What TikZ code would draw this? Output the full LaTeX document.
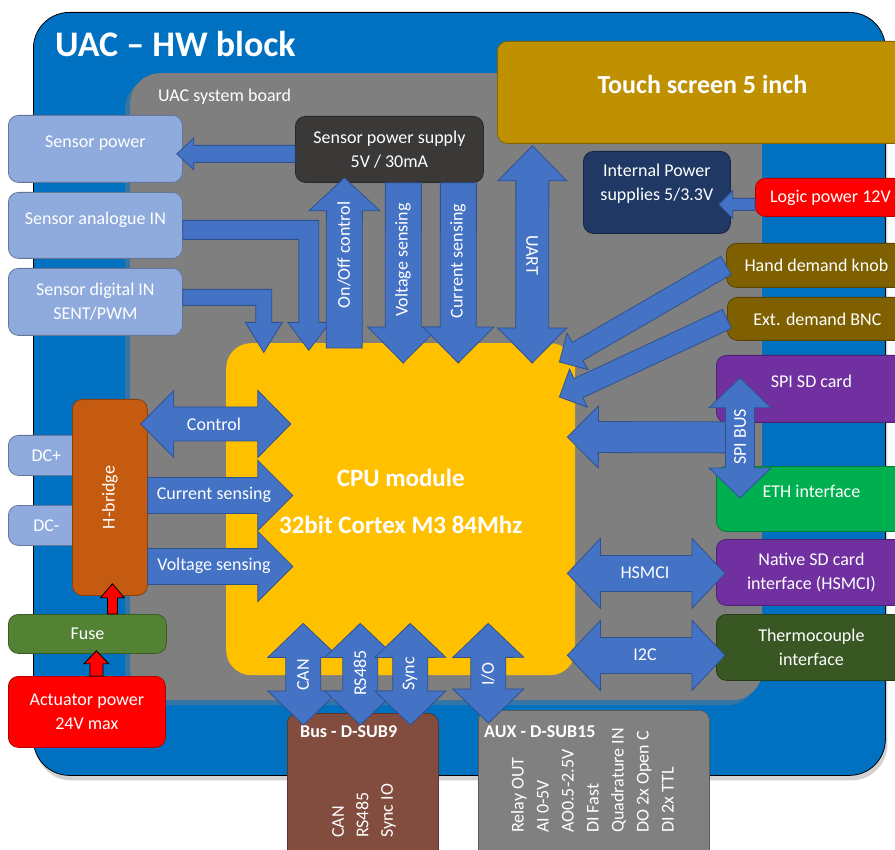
\documentclass[tikz,border=0pt]{standalone}
\usepackage{fontspec}
\setmainfont{Carlito}
\usetikzlibrary{calc,shadows}

\definecolor{hwblue}{RGB}{0,112,192}
\definecolor{boardgray}{RGB}{127,127,127}
\definecolor{cpuyellow}{RGB}{255,192,0}
\definecolor{arrowblue}{RGB}{68,114,196}
\definecolor{arrowedge}{RGB}{47,82,143}
\definecolor{sensorblue}{RGB}{143,170,220}
\definecolor{supplygray}{RGB}{59,56,56}
\definecolor{screengold}{RGB}{191,144,0}
\definecolor{powernavy}{RGB}{32,56,100}
\definecolor{powerred}{RGB}{255,0,0}
\definecolor{demandbrown}{RGB}{127,96,0}
\definecolor{sdpurple}{RGB}{112,48,160}
\definecolor{ethgreen}{RGB}{0,176,80}
\definecolor{tcgreen}{RGB}{56,87,35}
\definecolor{bridgeorange}{RGB}{197,90,17}
\definecolor{fusegreen}{RGB}{84,130,53}
\definecolor{busbrown}{RGB}{130,76,62}
\definecolor{auxgray}{RGB}{128,128,128}

\tikzset{
  box/.style={draw=#1!70!black, line width=0.8pt, fill=#1, rounded corners=10pt,
    text=white, align=center, inner sep=0pt, anchor=north west,
    font=\fontsize{18}{24}\selectfont},
  raised/.style={text height=12pt, text depth=14pt},
  lbl/.style={text=white, inner sep=0pt, font=\fontsize{18}{24}\selectfont},
  barrow/.style={fill=arrowblue, draw=arrowedge, line width=0.8pt},
  % block arrow, args: half shaft / half head / head length
  sarrow/.style n args={3}{barrow, to path={
    let \p1=(\tikztostart), \p2=(\tikztotarget),
        \n1={atan2(\y2-\y1,\x2-\x1)}, \n2={veclen(\x2-\x1,\y2-\y1)} in
    {[shift={(\p1)}, rotate=\n1]
     (0pt,-#1) -- ({\n2-#3},-#1) -- ({\n2-#3},-#2) -- ({\n2+0pt},0pt)
     -- ({\n2-#3},#2) -- ({\n2-#3},#1) -- (0pt,#1) -- cycle}}},
  darrow/.style n args={3}{barrow, to path={
    let \p1=(\tikztostart), \p2=(\tikztotarget),
        \n1={atan2(\y2-\y1,\x2-\x1)}, \n2={veclen(\x2-\x1,\y2-\y1)} in
    {[shift={(\p1)}, rotate=\n1]
     (0pt,0pt) -- (#3,-#2) -- (#3,-#1) -- ({\n2-#3},-#1) -- ({\n2-#3},-#2)
     -- ({\n2+0pt},0pt) -- ({\n2-#3},#2) -- ({\n2-#3},#1) -- (#3,#1) -- (#3,#2) -- cycle}}},
}

\begin{document}
\begin{tikzpicture}[x=1pt, y=-1pt]
\useasboundingbox (0,0) rectangle (895,850);
\fill[white] (0,0) rectangle (895,850);

% frame and board
\node[draw=black, line width=0.8pt, fill=hwblue, rounded corners=36pt, minimum width=852pt,
  minimum height=763pt, anchor=north west,
  drop shadow={shadow xshift=2pt, shadow yshift=-5pt, opacity=.35}] (hw) at (33,12) {};
\node[anchor=base west, inner sep=0pt, text=white, font=\bfseries\fontsize{36}{42}\selectfont]
  (title) at (55,57) {UAC – HW block};
\node[fill=boardgray, rounded corners=30pt, minimum width=632pt, minimum height=627pt,
  anchor=north west, drop shadow={shadow xshift=-5pt, shadow yshift=-5pt, opacity=.4}]
  (board) at (130,73) {};
\node[anchor=base west, lbl] (boardT) at (158,102) {UAC system board};

% boxes
\node[box=screengold, raised, minimum width=410pt, minimum height=102pt,
  font=\bfseries\fontsize{26}{30}\selectfont, text height=18pt, text depth=15pt]
  (touch) at (497,41) {Touch screen 5 inch};
\node[box=sensorblue, raised, minimum width=174pt, minimum height=67pt] (spw) at (8,115) {Sensor power};
\node[box=sensorblue, raised, minimum width=174pt, minimum height=66pt] (sain) at (8,192) {Sensor analogue IN};
\node[box=sensorblue, minimum width=174pt, minimum height=67pt] (sdin) at (8,268) {Sensor digital IN\\SENT/PWM};
\node[box=sensorblue, minimum width=76pt, minimum height=40pt] (dcp) at (8,435) {DC+};
\node[box=sensorblue, minimum width=76pt, minimum height=40pt] (dcm) at (8,505) {DC-};
\node[box=fusegreen, minimum width=158pt, minimum height=39pt] (fuse) at (8,614) {Fuse};
\node[box=powerred, minimum width=157pt, minimum height=71pt] (act) at (8,676) {Actuator power\\24V max};
\node[box=supplygray, minimum width=188pt, minimum height=66pt] (spsu) at (295,116) {Sensor power supply\\5V / 30mA};
\node[box=powernavy, minimum width=147pt, minimum height=82pt, text depth=20pt] (ips) at (583,151) {Internal Power\\supplies 5/3.3V};
\node[box=powerred, minimum width=150pt, minimum height=38pt] (lpow) at (755,178) {Logic power 12V};
\node[box=demandbrown, minimum width=180pt, minimum height=44pt] (hand) at (726,243) {Hand demand knob};
\node[box=demandbrown, minimum width=180pt, minimum height=43pt] (ext) at (727,297) {Ext. demand BNC};
\node[box=sdpurple, raised, minimum width=190pt, minimum height=67pt] (spisd) at (716,355) {SPI SD card};
\node[box=ethgreen, raised, minimum width=190pt, minimum height=65pt] (eth) at (716,466) {ETH interface};
\node[box=sdpurple, minimum width=190pt, minimum height=66pt] (nsd) at (716,539) {Native SD card\\interface (HSMCI)};
\node[box=tcgreen, minimum width=190pt, minimum height=66pt] (tc) at (716,614) {Thermocouple\\interface};

% CPU
\node[fill=cpuyellow, rounded corners=25pt, minimum width=349pt, minimum height=332pt,
  anchor=north west, text=white, align=center, font=\bfseries\fontsize{25}{47}\selectfont,
  text depth=15pt, drop shadow={shadow xshift=-5pt, shadow yshift=-5pt, opacity=.4}]
  (cpu) at (226,343) {CPU module\\32bit Cortex M3 84Mhz};
\node[box=bridgeorange, minimum width=75pt, minimum height=196pt] (hb) at (72,399) {\rotatebox{90}{H-bridge}};

% connectors boxes
\node[box=busbrown, minimum width=151pt, minimum height=160pt] (bus) at (287,713) {};
\node[box=auxgray, minimum width=231pt, minimum height=160pt] (aux) at (478,710) {};
\node[lbl, anchor=base west, font=\bfseries\fontsize{18}{24}\selectfont] (busT) at (300,737) {Bus - D-SUB9};
\node[lbl, anchor=base west, font=\bfseries\fontsize{18}{24}\selectfont] (auxT) at (484,737) {AUX - D-SUB15};
\node[lbl, rotate=90, align=left, anchor=north west, font=\fontsize{18}{24.5}\selectfont]
  (busL) at (332,838) {CAN\\RS485\\Sync IO};
\node[lbl, rotate=90, align=left, anchor=north west, font=\fontsize{18}{25}\selectfont]
  (auxL) at (511,833) {Relay OUT\\AI 0-5V\\AO0.5-2.5V\\DI Fast\\Quadrature IN\\DO 2x Open C\\DI 2x TTL};

% sensor arrows
\draw[sarrow={8.5pt}{16pt}{17pt}] ($(spsu.west)+(0,4.5)$) to ($(spw.east)+(-6,5)$);
\draw[barrow] ($(sain.east)+(0,-5)$) -- ++(136,0) -- ++(0,102) -- ++(11,0) -- ++(-21,28)
  -- ++(-21,-28) -- ++(11,0) -- ++(0,-83) -- ++(-116,0) -- cycle;
\draw[barrow] ($(sdin.east)+(0,-12.5)$) -- ++(89,0) -- ++(0,33) -- ++(10.5,0) -- ++(-18.5,30)
  -- ++(-18.5,-30) -- ++(10.5,0) -- ++(0,-17) -- ++(-73,0) -- cycle;
\draw[sarrow={18pt}{35.5pt}{33pt}] ($(cpu.north)+(-56.5,5)$) to ($(spsu.south)+(-45,-5)$);
\draw[sarrow={18pt}{35.5pt}{36pt}] ($(spsu.south)+(14,0)$) to ($(cpu.north)+(2.5,20)$);
\draw[sarrow={18pt}{35.5pt}{36pt}] ($(spsu.south)+(69,0)$) to ($(cpu.north)+(57.5,20)$);
\draw[darrow={16.5pt}{34.5pt}{35pt}] ($(touch.south)+(-170,2)$) to ($(cpu.north)+(131.5,20)$);
\draw[sarrow={10.5pt}{21pt}{21pt}] (hand.west) to ($(cpu.north east)+(-16,19)$);
\draw[sarrow={10.5pt}{21pt}{21pt}] (ext.west) to ($(cpu.north east)+(-16,54)$);
\draw[sarrow={6pt}{14pt}{14pt}] ($(lpow.west)+(0,7)$) to ($(ips.east)+(-12,12)$);

% right side
\coordinate (spi) at ($(spisd.south west)!.5!(eth.north west)+(24,-7)$);
\draw[sarrow={15.5pt}{31pt}{31pt}] (spi) to ($(cpu.north east)+(-8,94)$);
\draw[darrow={14.5pt}{31pt}{30pt}] ($(spisd.south west)+(24,-45)$) to ($(eth.north west)+(24,32)$);
\draw[darrow={18pt}{35pt}{33pt}] ($(cpu.east |- nsd.west)+(-8,1)$) to ($(nsd.west)+(9,1)$);
\draw[darrow={18pt}{35pt}{33pt}] ($(cpu.east |- tc.west)+(-8,8)$) to ($(tc.west)+(9,8)$);

% left side
\draw[darrow={17pt}{33.5pt}{33pt}] ($(hb.north east)+(-7,25)$) to ($(hb.north east)+(143,25)$);
\draw[sarrow={18pt}{35pt}{35pt}] ($(hb.east)+(0,-2)$) to ($(hb.east)+(145,-2)$);
\draw[sarrow={18pt}{35pt}{35pt}] ($(hb.east)+(0,69)$) to ($(hb.east)+(145,69)$);
\draw[sarrow={5pt}{12pt}{14pt}, fill=red, draw=black] ($(fuse.north)+(25,0)$) to ($(hb.south)+(2.5,-12)$);
\draw[sarrow={6.5pt}{12.5pt}{13pt}, fill=red, draw=black] ($(act.north)+(9.5,0)$) to ($(fuse.south)+(9,-3)$);

% bottom
\draw[darrow={17.5pt}{35.5pt}{34pt}] ($(cpu.south)+(-97.5,-52)$) to ($(bus.north)+(-59.5,12)$);
\draw[darrow={17.5pt}{35.5pt}{34pt}] ($(cpu.south)+(-40.5,-52)$) to ($(bus.north)+(-2.5,12)$);
\draw[darrow={17.5pt}{35.5pt}{34pt}] ($(cpu.south)+(9.5,-52)$) to ($(bus.north)+(47.5,12)$);
\draw[darrow={17.5pt}{35.5pt}{34pt}] ($(cpu.south)+(87.5,-52)$) to ($(aux.north)+(-105.5,13)$);

% labels
\node[lbl, rotate=90] (lOnOff) at (344,255) {On/Off control};
\node[lbl, rotate=90] (lVs) at (403,260) {Voltage sensing};
\node[lbl, rotate=90] (lCs) at (458,261) {Current sensing};
\node[lbl, rotate=-90] (lUart) at (532,255) {UART};
\node[lbl, rotate=90] (lSpi) at (740,437) {SPI BUS};
\node[lbl] (lCtrl) at (214,424) {Control};
\node[lbl] (lCur) at (214,495) {Current sensing};
\node[lbl] (lVolt) at (214,566) {Voltage sensing};
\node[lbl] (lHsmci) at (645,573) {HSMCI};
\node[lbl] (lI2c) at (645,655) {I2C};
\node[lbl, rotate=90] (lCan) at (303,675) {CAN};
\node[lbl, rotate=90] (lRs) at (360,673) {RS485};
\node[lbl, rotate=90] (lSync) at (410,674) {Sync};
\node[lbl, rotate=90] (lIo) at (488,674) {I/O};
\end{tikzpicture}
\end{document}
